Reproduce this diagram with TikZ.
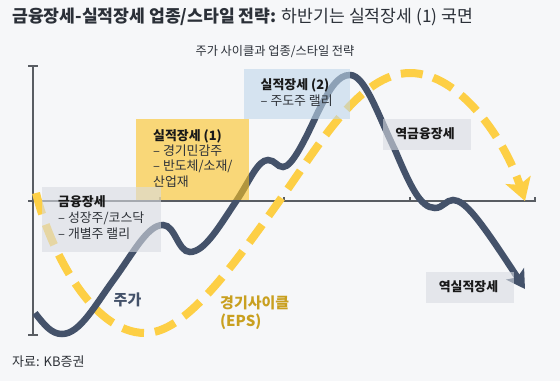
\documentclass[tikz,border=0pt]{standalone}
\usepackage{fontspec}
\setmainfont{Noto Sans CJK KR}
\usetikzlibrary{arrows.meta}
\definecolor{bgc}{HTML}{F6F7F9}
\definecolor{navy}{HTML}{44526A}
\definecolor{gold}{HTML}{FDCF45}
\definecolor{goldtext}{HTML}{C9A020}
\definecolor{axisc}{HTML}{595D63}
\definecolor{boxgray}{HTML}{D8DCE2}
\definecolor{boxyellow}{HTML}{FBC322}
\definecolor{boxblue}{HTML}{BFD6EA}
\definecolor{titlec}{HTML}{2B3038}
\definecolor{bodyc}{HTML}{2E3238}
\begin{document}
\begin{tikzpicture}[x=1pt,y=-1pt,
  panel/.style={fill opacity=0.6, draw=none, inner sep=0pt, anchor=north west},
  head/.style={anchor=base west, inner sep=0pt, font=\fontsize{12.9}{12.9}\selectfont\bfseries, text=black!90},
  item/.style={anchor=base west, inner sep=0pt, font=\fontsize{12.9}{12.9}\selectfont, text=bodyc},
  axisline/.style={draw=axisc, line width=1.1pt},
  price/.style={draw=navy, line width=6.5pt, -{Stealth[length=18pt,width=21pt,inset=4pt]}},
  cycle/.style={draw=gold, line width=8pt, dash pattern=on 22pt off 11pt, -{Stealth[length=22pt,width=26pt,inset=5pt]}}
]
\fill[bgc] (0,0) rectangle (560,381);
\useasboundingbox (0,0) rectangle (560,381);

% titles
\node[anchor=base west, inner sep=0pt, text=titlec, font=\fontsize{17.2}{17.2}\selectfont] (title) at (12,22.5)
  {\bfseries 금융장세-실적장세 업종/스타일 전략: \mdseries 하반기는 실적장세 (1) 국면};
\node[anchor=base, inner sep=0pt, text=titlec, font=\fontsize{12.2}{12.2}\selectfont] (subtitle) at (275,55.5)
  {주가 사이클과 업종/스타일 전략};
\node[anchor=base west, inner sep=0pt, text=bodyc, font=\fontsize{13}{13}\selectfont] (source) at (12,366.8)
  {자료: KB증권};

% axes
\coordinate (ytop) at (33,66);
\coordinate (ybot) at (33,335);
\coordinate (xl) at (28,201);
\coordinate (xr) at (536,201);
\draw[axisline] (ytop) -- (ybot);
\draw[axisline] ([xshift=-5pt]ytop) -- ([xshift=5pt]ytop);
\draw[axisline] ([xshift=-5pt]ybot) -- ([xshift=5pt]ybot);
\draw[axisline] (xl) -- (xr);
\foreach \t in {160,284,410,535}{
  \draw[axisline] (\t,201) -- (\t,196.5);
}

% curves
\draw[cycle] (36,193) .. controls (50,250) and (92,333) .. (145,333)
  .. controls (185,333) and (230,270) .. (280,200)
  .. controls (320,144) and (360,73) .. (410,73)
  .. controls (460,73) and (505,140) .. (525,201);

\draw[price] (35,313) .. controls (45,326) and (52,334) .. (62,334)
  .. controls (80,334) and (95,305) .. (115,278)
  .. controls (135,250) and (148,225) .. (163,225)
  .. controls (175,225) and (178,252) .. (190,252)
  .. controls (205,252) and (220,225) .. (237,200)
  .. controls (250,180) and (258,160) .. (268,160)
  .. controls (275,160) and (277,167) .. (283,167)
  .. controls (292,167) and (305,140) .. (318,112)
  .. controls (330,88) and (338,75) .. (350,75)
  .. controls (365,75) and (378,115) .. (395,150)
  .. controls (410,185) and (420,208) .. (435,208)
  .. controls (443,208) and (446,200) .. (453,200)
  .. controls (465,200) and (480,220) .. (525,289);

% panels
\node[panel, fill=boxyellow, minimum width=113pt, minimum height=81pt] (p2) at (136,119) {};
\node[panel, fill=boxgray, minimum width=119pt, minimum height=65pt] (p1) at (42,187) {};
\node[panel, fill=boxblue, minimum width=106pt, minimum height=50pt] (p3) at (244,69) {};
\node[panel, fill=boxgray, minimum width=88pt, minimum height=31pt] (p4) at (383,119) {};
\node[panel, fill=boxgray, minimum width=88pt, minimum height=31pt] (p5) at (426,272) {};

% panel texts
\node[head] (p1a) at (58,206.3) {금융장세};
\node[item] (p1b) at (58,222.8) {– 성장주/코스닥};
\node[item] (p1c) at (58,238.3) {– 개별주 랠리};

\node[head] (p2a) at (153,140.3) {실적장세 (1)};
\node[item] (p2b) at (153,155.8) {– 경기민감주};
\node[item] (p2c) at (153,170.8) {– 반도체/소재/};
\node[item] (p2d) at (153,186.3) {산업재};

\node[head] (p3a) at (260.5,89.3) {실적장세 (2)};
\node[item] (p3b) at (260.5,105.8) {– 주도주 랠리};

\node[head, anchor=base] (p4a) at (425,138.8) {역금융장세};
\node[head, anchor=base] (p5a) at (468.5,291.3) {역실적장세};

% curve labels
\node[anchor=base, inner sep=0pt, text=navy, font=\fontsize{15}{15}\selectfont\bfseries] (lprice) at (127.5,305.5) {주가};
\node[anchor=base west, inner sep=0pt, text=goldtext, font=\fontsize{15}{15}\selectfont\bfseries] (lcyc1) at (220,308.8) {경기사이클};
\node[anchor=base west, inner sep=0pt, text=goldtext, font=\fontsize{15}{15}\selectfont\bfseries] (lcyc2) at (220,326.5) {(EPS)};
\end{tikzpicture}
\end{document}
